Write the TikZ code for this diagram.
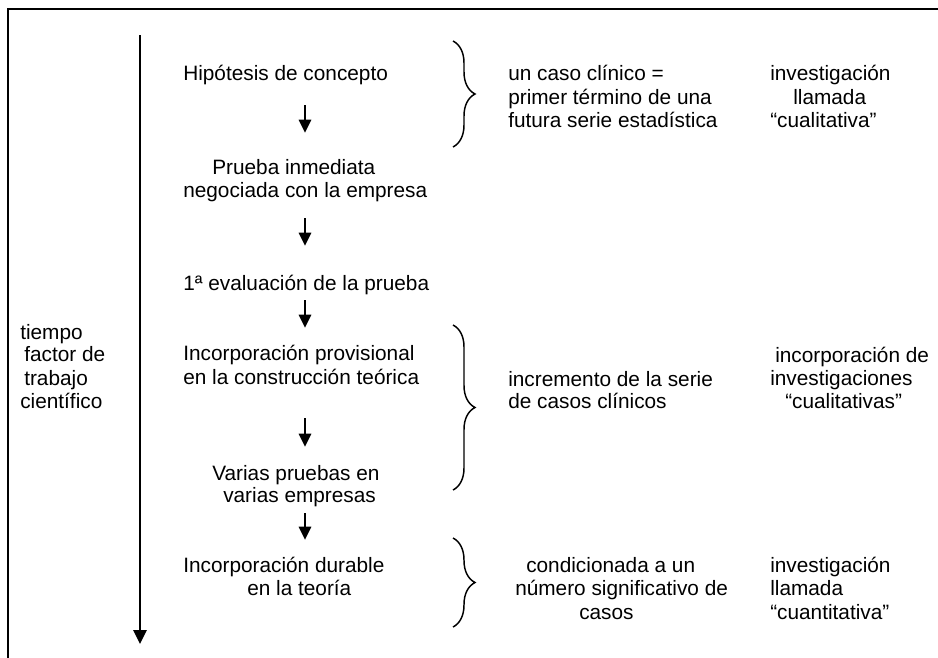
\documentclass[tikz,border=0pt]{standalone}
\usepackage{fontspec}
\setmainfont{Liberation Sans}
\usetikzlibrary{arrows.meta,decorations.pathreplacing}
\begin{document}
\begin{tikzpicture}[x=0.75pt,y=-0.75pt,
  txt/.style={anchor=base west,inner sep=0pt,font=\fontsize{15.6}{17.3}\selectfont},
  stepflow/.style={line width=2.2pt,-{Triangle[width=9pt,length=10pt]}},
  timeline/.style={line width=1.4pt,-{Triangle[width=10pt,length=10.5pt]}},
  bracket/.style={line width=1.1pt,decorate,decoration={brace,amplitude=16.5pt}},
  frameline/.style={line width=1.5pt}]
\useasboundingbox (0,0) rectangle (938,657);
% frame
\coordinate (fbl) at (8,658);
\coordinate (ftl) at (8,9);
\coordinate (ftr) at (939,9);
\draw[frameline] (fbl) -- (ftl) -- (ftr);
% time axis
\coordinate (tt) at (140,35);
\coordinate (tb) at (140,644);
\draw[timeline] (tt) -- (tb);
\node[txt] (l1) at (20,339) {tiempo};
\node[txt] (l2) at (24,361) {factor de};
\node[txt] (l3) at (24,385) {trabajo};
\node[txt] (l4) at (20,408) {científico};
% steps
\node[txt] (s1) at (183,80) {Hipótesis de concepto};
\node[txt] (s2a) at (212,174) {Prueba inmediata};
\node[txt] (s2b) at (183,197) {negociada con la empresa};
\node[txt] (s3) at (183,290) {1ª evaluación de la prueba};
\node[txt] (s4a) at (183,360) {Incorporación provisional};
\node[txt] (s4b) at (183,384) {en la construcción teórica};
\node[txt] (s5a) at (212,480) {Varias pruebas en};
\node[txt] (s5b) at (223,502) {varias empresas};
\node[txt] (s6a) at (183,572) {Incorporación durable};
\node[txt] (s6b) at (247,595) {en la teoría};
% step arrows
\coordinate (a1s) at (305,105); \coordinate (a1e) at (305,133);
\coordinate (a2s) at (305,218); \coordinate (a2e) at (305,246);
\coordinate (a3s) at (305,300); \coordinate (a3e) at (305,328);
\coordinate (a4s) at (305,418); \coordinate (a4e) at (305,447);
\coordinate (a5s) at (305,513); \coordinate (a5e) at (305,540);
\draw[stepflow] (a1s) -- (a1e);
\draw[stepflow] (a2s) -- (a2e);
\draw[stepflow] (a3s) -- (a3e);
\draw[stepflow] (a4s) -- (a4e);
\draw[stepflow] (a5s) -- (a5e);
% braces
\coordinate (b1t) at (453,41); \coordinate (b1b) at (453,147);
\coordinate (b2t) at (453,325); \coordinate (b2b) at (453,490);
\coordinate (b3t) at (453,538); \coordinate (b3b) at (453,627);
\draw[bracket] (b1t) -- (b1b);
\draw[bracket] (b2t) -- (b2b);
\draw[bracket] (b3t) -- (b3b);
% middle column
\node[txt] (c1a) at (508,80) {un caso clínico =};
\node[txt] (c1b) at (508,104) {primer término de una};
\node[txt] (c1c) at (508,127) {futura serie estadística};
\node[txt] (c2a) at (508,386) {incremento de la serie};
\node[txt] (c2b) at (508,408) {de casos clínicos};
\node[txt] (c3a) at (526,572) {condicionada a un};
\node[txt] (c3b) at (515,595) {número significativo de};
\node[txt] (c3c) at (579,619) {casos};
% right column
\node[txt] (r1a) at (770,80) {investigación};
\node[txt] (r1b) at (793,104) {llamada};
\node[txt] (r1c) at (770,127) {“cualitativa”};
\node[txt] (r2a) at (775,362) {incorporación de};
\node[txt] (r2b) at (770,385) {investigaciones};
\node[txt] (r2c) at (785,408) {“cualitativas”};
\node[txt] (r3a) at (770,572) {investigación};
\node[txt] (r3b) at (770,595) {llamada};
\node[txt] (r3c) at (770,619) {“cuantitativa”};
\end{tikzpicture}
\end{document}
